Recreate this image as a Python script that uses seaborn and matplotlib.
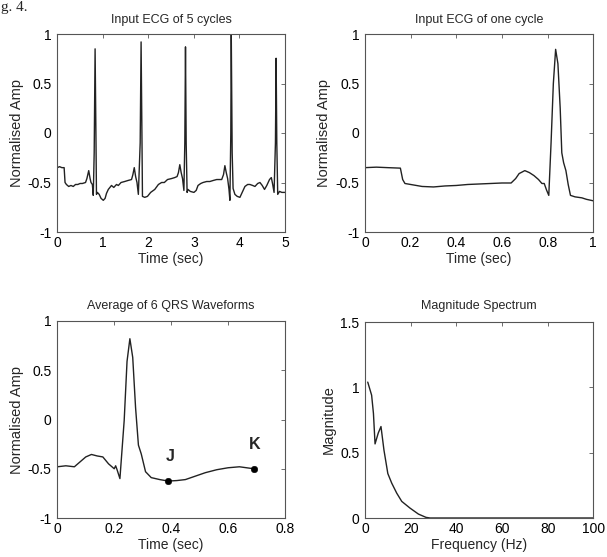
import matplotlib
matplotlib.use('Agg')
import matplotlib.pyplot as plt
import seaborn as sns
from matplotlib.ticker import FuncFormatter

# Input ECG of 5 cycles (time in sec, normalised amplitude)
ecg5_t = [0.00, 0.05, 0.10, 0.15, 0.17, 0.20, 0.25, 0.30, 0.35, 0.40, 0.45, 0.50,
          0.55, 0.62, 0.65, 0.69, 0.72, 0.74, 0.77, 0.79, 0.81, 0.83, 0.85, 0.86,
          0.88, 0.92, 0.96, 1.01, 1.05, 1.08, 1.12, 1.19, 1.24, 1.30, 1.34, 1.40,
          1.48, 1.55, 1.63, 1.66, 1.69, 1.72, 1.75, 1.78, 1.82, 1.84, 1.86, 1.87,
          1.92, 1.98, 2.05, 2.14, 2.22, 2.29, 2.35, 2.42, 2.51, 2.58, 2.63, 2.66,
          2.69, 2.72, 2.75, 2.78, 2.80, 2.815, 2.83, 2.85, 2.87, 2.92, 3.00, 3.05,
          3.09, 3.15, 3.20, 3.28, 3.35, 3.42, 3.50, 3.61, 3.65, 3.68, 3.71, 3.74,
          3.77, 3.79, 3.81, 3.82, 3.84, 3.86, 3.90, 3.95, 4.01, 4.06, 4.12, 4.18,
          4.23, 4.29, 4.34, 4.40, 4.45, 4.50, 4.55, 4.60, 4.66, 4.70, 4.73, 4.76,
          4.79, 4.805, 4.82, 4.84, 4.88, 4.93, 5.00]
ecg5_a = [-0.35, -0.34, -0.35, -0.35, -0.50, -0.52, -0.54, -0.53, -0.54, -0.52, -0.52, -0.51,
          -0.51, -0.50, -0.46, -0.38, -0.46, -0.50, -0.52, -0.63, -0.20, 0.85, -0.10, -0.62,
          -0.60, -0.62, -0.66, -0.68, -0.66, -0.61, -0.57, -0.53, -0.55, -0.52, -0.53, -0.50,
          -0.49, -0.48, -0.47, -0.42, -0.35, -0.44, -0.50, -0.62, -0.10, 0.92, -0.10, -0.64,
          -0.65, -0.64, -0.60, -0.57, -0.52, -0.50, -0.50, -0.47, -0.46, -0.45, -0.44, -0.40,
          -0.32, -0.40, -0.46, -0.58, -0.10, 0.87, -0.10, -0.60, -0.57, -0.59, -0.60, -0.58,
          -0.53, -0.51, -0.50, -0.49, -0.49, -0.48, -0.47, -0.47, -0.42, -0.33, -0.40, -0.46,
          -0.57, -0.68, 0.00, 1.00, -0.20, -0.56, -0.62, -0.64, -0.65, -0.60, -0.54, -0.52,
          -0.52, -0.53, -0.54, -0.51, -0.50, -0.53, -0.57, -0.53, -0.47, -0.45, -0.52, -0.60,
          -0.10, 0.755, -0.10, -0.62, -0.59, -0.60, -0.60]

# Input ECG of one cycle
ecg1_t = [0.00, 0.05, 0.10, 0.155, 0.165, 0.175, 0.20, 0.25, 0.30, 0.35, 0.40, 0.45,
          0.50, 0.55, 0.60, 0.64, 0.66, 0.675, 0.70, 0.72, 0.74, 0.76, 0.775, 0.785,
          0.795, 0.805, 0.815, 0.825, 0.835, 0.845, 0.855, 0.862, 0.87, 0.88, 0.89,
          0.90, 0.92, 0.95, 0.97, 1.00]
ecg1_a = [-0.35, -0.345, -0.35, -0.355, -0.47, -0.51, -0.52, -0.54, -0.545, -0.535, -0.53, -0.52,
          -0.515, -0.51, -0.505, -0.505, -0.46, -0.41, -0.38, -0.40, -0.43, -0.47, -0.51, -0.51,
          -0.575, -0.63, -0.10, 0.50, 0.845, 0.70, 0.25, -0.20, -0.30, -0.38, -0.52,
          -0.63, -0.645, -0.655, -0.67, -0.685]

# Average of 6 QRS waveforms
qrs_t = [0.00, 0.03, 0.06, 0.08, 0.10, 0.12, 0.14, 0.16, 0.18, 0.20, 0.205, 0.21,
         0.22, 0.235, 0.245, 0.255, 0.265, 0.275, 0.285, 0.295, 0.31, 0.33, 0.36, 0.39,
         0.42, 0.45, 0.48, 0.52, 0.56, 0.60, 0.64, 0.69]
qrs_a = [-0.48, -0.47, -0.48, -0.43, -0.38, -0.355, -0.37, -0.38, -0.45, -0.50, -0.47, -0.51,
         -0.60, -0.01, 0.59, 0.82, 0.63, 0.12, -0.26, -0.35, -0.53, -0.59, -0.61, -0.625,
         -0.62, -0.61, -0.58, -0.54, -0.51, -0.49, -0.48, -0.50]
jk_labels = ['J', 'K']
jk_t = [0.39, 0.69]
jk_a = [-0.625, -0.50]

# Magnitude spectrum
spec_f = [1.2, 2.9, 3.7, 4.4, 5.8, 7.0, 8.3, 10.0, 11.7, 13.9, 16.1, 19.7, 23.4, 26.7, 28.5, 100.0]
spec_m = [1.04, 0.94, 0.80, 0.567, 0.65, 0.70, 0.52, 0.34, 0.267, 0.19, 0.127, 0.076, 0.03, 0.005, 0.0, 0.0]

sns.set_theme(style='white')
plt.rcParams['font.family'] = ['Liberation Sans', 'DejaVu Sans']
plt.rcParams['axes.unicode_minus'] = False

fig = plt.figure(figsize=(6.07, 5.57), dpi=100)
W, H = 607.0, 557.0


def add_panel(left, top, right, bottom):
    return fig.add_axes([left / W, 1 - bottom / H, (right - left) / W, (bottom - top) / H])


def style(ax, xlim, ylim, xticks, yticks, title, xlabel, ylabel, tpad):
    ax.set_xlim(xlim)
    ax.set_ylim(ylim)
    ax.set_xticks(xticks)
    ax.set_yticks(yticks)
    fmt = FuncFormatter(lambda v, p: f'{v:g}')
    ax.xaxis.set_major_formatter(fmt)
    ax.yaxis.set_major_formatter(fmt)
    ax.tick_params(direction='in', length=3, width=0.6, top=True, right=True,
                   color='#555555', labelcolor='black', labelsize=10)
    ax.tick_params(axis='x', pad=3)
    ax.tick_params(axis='y', pad=4)
    for s in ax.spines.values():
        s.set_color('#555555')
        s.set_linewidth(0.8)
    ax.set_title(title, fontsize=9, pad=tpad)
    ax.set_xlabel(xlabel, fontsize=10, labelpad=1.5)
    ax.set_ylabel(ylabel, fontsize=10.5, labelpad=3)


line_kw = dict(color='#222222', linewidth=1.0, estimator=None, sort=False)

ax1 = add_panel(57.3, 34, 285, 232)
sns.lineplot(x=ecg5_t, y=ecg5_a, ax=ax1, **line_kw)
style(ax1, (0, 5), (-1, 1), [0, 1, 2, 3, 4, 5], [-1, -0.5, 0, 0.5, 1],
      'Input ECG of 5 cycles', 'Time (sec)', 'Normalised Amp', 8)

ax2 = add_panel(365, 34, 593.3, 232)
sns.lineplot(x=ecg1_t, y=ecg1_a, ax=ax2, **line_kw)
style(ax2, (0, 1), (-1, 1), [0, 0.2, 0.4, 0.6, 0.8, 1], [-1, -0.5, 0, 0.5, 1],
      'Input ECG of one cycle', 'Time (sec)', 'Normalised Amp', 8)

ax3 = add_panel(57.3, 321, 285, 518)
sns.lineplot(x=qrs_t, y=qrs_a, ax=ax3, **line_kw)
sns.scatterplot(x=jk_t, y=jk_a, ax=ax3, color='black', s=22, edgecolor='black', zorder=3)
for lab, t, a in zip(jk_labels, jk_t, jk_a):
    ax3.annotate(lab, (t, a), xytext=(1, 12), textcoords='offset points',
                 ha='center', va='bottom', fontsize=11.5, fontweight='bold')
style(ax3, (0, 0.8), (-1, 1), [0, 0.2, 0.4, 0.6, 0.8], [-1, -0.5, 0, 0.5, 1],
      'Average of 6 QRS Waveforms', 'Time (sec)', 'Normalised Amp', 9)

ax4 = add_panel(365, 322, 593.3, 518)
sns.lineplot(x=spec_f, y=spec_m, ax=ax4, **line_kw)
style(ax4, (0, 100), (0, 1.5), [0, 20, 40, 60, 80, 100], [0, 0.5, 1, 1.5],
      'Magnitude Spectrum', 'Frequency (Hz)', 'Magnitude', 9)

fig.text(1 / W, 1 - 11 / H, 'g. 4.', fontsize=11, family=['Liberation Serif', 'DejaVu Serif'],
         ha='left', va='baseline')

fig.savefig('out.png', dpi=100)
